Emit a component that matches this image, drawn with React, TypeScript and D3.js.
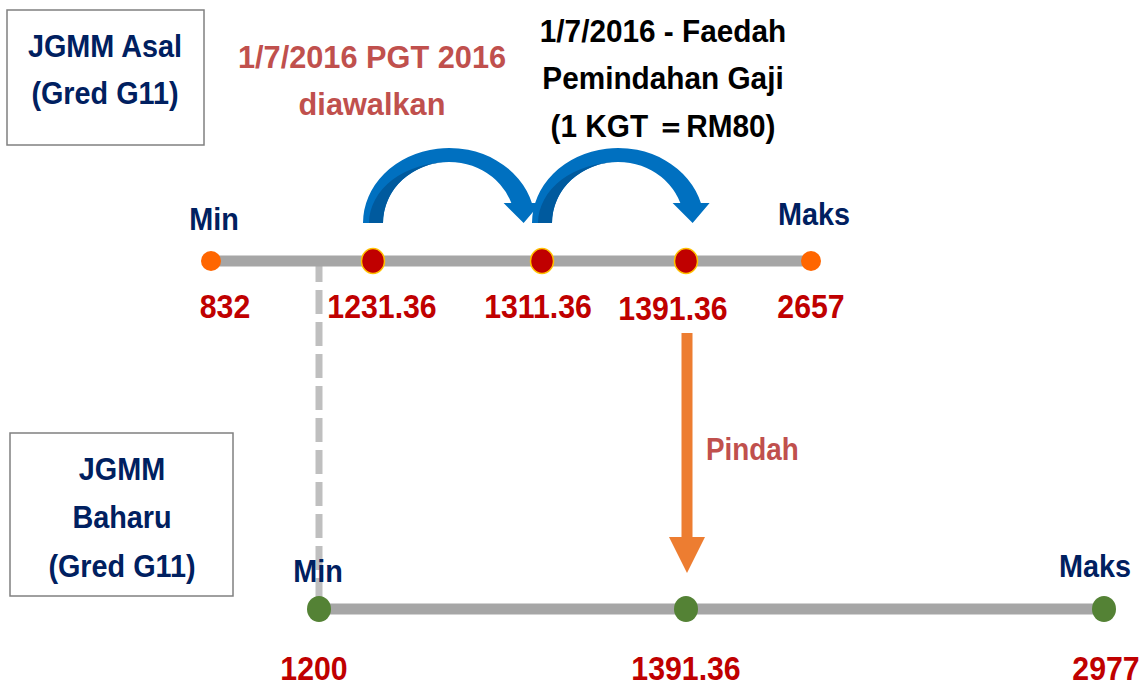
import * as d3 from "d3";

// salary points on the old scale (JGMM Asal, G11)
const asalValues = [832, 1231.36, 1311.36, 1391.36, 2657];
const asalKinds = ["end", "step", "step", "step", "end"];
// new scale (JGMM Baharu, G11)
const baharuValues = [1200, 1391.36, 2977];
const rangeLabels = ["Min", "Maks"];
// each curved arrow starts here and jumps one KGT (RM80) to the right
const kgtFrom = [1231.36, 1311.36];
const pindahValue = 1391.36;
const baharuMin = 1200;

const asalTitle = ["JGMM Asal", "(Gred G11)"];
const baharuTitle = ["JGMM", "Baharu", "(Gred G11)"];
const pgtNote = ["1/7/2016 PGT 2016", "diawalkan"];
const faedahNote = ["1/7/2016 - Faedah", "Pemindahan Gaji", "(1 KGT ＝RM80)"];
const pindahLabel = "Pindah";

const W = 1142;
const H = 689;
const FONT = "'Liberation Sans', Arial, sans-serif";
const NAVY = "#002060";
const ROSE = "#c0504d";
const DARKRED = "#c00000";
const SQUEEZE = 0.9; // stand-in for the condensed face of the original

// not to scale: every amount gets its own slot along the line
const slotValues = Array.from(new Set([...asalValues, ...baharuValues])).sort(d3.ascending);
const slotX = [211, 319, 373, 542, 686, 811, 1104];
const x = d3.scaleLinear().domain(slotValues).range(slotX);

const yTop = 261;
const yBottom = 609;
// labels sit in their own boxes, a little off the dots
const asalNudge = [14, 9, -4, -13, 0];
const baharuNudge = [-5, 0, 2];

function curvedArrow(x0: number, base: number) {
  const rxo = 86, ryo = 75, rxi = 66, ryi = 61;
  const cx = x0 + 76;
  const neck = base - 20;
  const dy = base - neck;
  const outerNeck = cx + rxo * Math.sqrt(1 - (dy / ryo) ** 2);
  const innerNeck = cx + rxi * Math.sqrt(1 - (dy / ryi) ** 2);
  const mid = (outerNeck + innerNeck) / 2;
  const body =
    `M${cx - rxo},${base} A${rxo},${ryo} 0 0 1 ${outerNeck},${neck} ` +
    `L${mid + 19},${neck} L${mid + 2},${base} L${mid - 18},${neck} ` +
    `L${innerNeck},${neck} A${rxi},${ryi} 0 0 0 ${cx - rxi},${base} Z`;
  const shade =
    `M${cx - rxi},${base} A${rxi},${ryi} 0 0 1 ${cx},${base - ryi} ` +
    `A${rxi + 14},${ryi} 0 0 0 ${cx - rxi - 14},${base} Z`;
  return { body, shade };
}

function downArrow(cx: number, y0: number, y1: number) {
  const p = d3.path();
  const hw = 5.5, head = 18, headLen = 36;
  p.moveTo(cx - hw, y0);
  p.lineTo(cx + hw, y0);
  p.lineTo(cx + hw, y1 - headLen);
  p.lineTo(cx + head, y1 - headLen);
  p.lineTo(cx, y1);
  p.lineTo(cx - head, y1 - headLen);
  p.lineTo(cx - hw, y1 - headLen);
  p.closePath();
  return p.toString();
}

function Label({ x0, y0, fill, size = 32, sx = SQUEEZE, anchor = "middle", children }: any) {
  return (
    <text transform={`translate(${x0},${y0}) scale(${sx},1)`} textAnchor={anchor} fill={fill} fontSize={size} fontWeight="bold" fontFamily={FONT}>
      {children}
    </text>
  );
}

function Lines({ lines, x0, y0, step, fill, sx = SQUEEZE }: any) {
  return (
    <text transform={`translate(${x0},${y0}) scale(${sx},1)`} textAnchor="middle" fill={fill} fontSize={32} fontWeight="bold" fontFamily={FONT}>
      {lines.map((t: string, i: number) => (
        <tspan key={i} x={0} dy={i === 0 ? 0 : step}>{t}</tspan>
      ))}
    </text>
  );
}

export default function App() {
  const asalEnds = d3.extent(asalValues) as [number, number];
  const baharuEnds = d3.extent(baharuValues) as [number, number];

  return (
    <svg width={W} height={H} style={{ position: "absolute", left: 0, top: 0, background: "#fff" }}>
      {/* title boxes */}
      <rect x={7} y={10} width={197} height={135} fill="none" stroke="#808080" strokeWidth={1.5} />
      <Lines lines={asalTitle} x0={105} y0={57} step={47} fill={NAVY} />
      <rect x={10} y={433} width={223} height={163} fill="none" stroke="#808080" strokeWidth={1.5} />
      <Lines lines={baharuTitle} x0={122} y0={480} step={48.5} fill={NAVY} />

      {/* notes */}
      <Lines lines={pgtNote} x0={372} y0={68} step={47} fill={ROSE} sx={0.96} />
      <Lines lines={faedahNote} x0={663} y0={42} step={47.5} fill="#000" sx={0.93} />

      {/* link from the new minimum up to the old line */}
      <line x1={x(baharuMin)} x2={x(baharuMin)} y1={yTop - 3} y2={yBottom} stroke="#bfbfbf" strokeWidth={7} strokeDasharray="24 8" />

      {/* salary lines */}
      <line x1={x(asalEnds[0])} x2={x(asalEnds[1])} y1={yTop} y2={yTop} stroke="#a6a6a6" strokeWidth={11} />
      <line x1={x(baharuEnds[0])} x2={x(baharuEnds[1])} y1={yBottom} y2={yBottom} stroke="#a6a6a6" strokeWidth={11} />

      {/* KGT jumps */}
      {kgtFrom.map((v, i) => {
        const a = curvedArrow(x(v), yTop - 38);
        return (
          <g key={i}>
            <path d={a.body} fill="#0070c0" />
            <path d={a.shade} fill="#005a9e" />
          </g>
        );
      })}

      {/* points */}
      {asalValues.map((v, i) =>
        asalKinds[i] === "end" ? (
          <circle key={i} cx={x(v)} cy={yTop} r={10} fill="#ff6600" />
        ) : (
          <ellipse key={i} cx={x(v)} cy={yTop} rx={11.5} ry={12.5} fill={DARKRED} stroke="#ffc000" strokeWidth={1.5} />
        )
      )}
      {baharuValues.map((v, i) => (
        <ellipse key={i} cx={x(v)} cy={yBottom} rx={12} ry={13} fill="#548235" />
      ))}

      {/* Min / Maks */}
      {rangeLabels.map((t, i) => (
        <Label key={"a" + i} x0={x(asalEnds[i]) + 3} y0={yTop - 31 - i * 5} fill={NAVY}>{t}</Label>
      ))}
      {rangeLabels.map((t, i) => (
        <Label key={"b" + i} x0={x(baharuEnds[i]) - (i ? 9 : 1)} y0={yBottom - 27 - i * 5} fill={NAVY}>{t}</Label>
      ))}

      {/* amounts */}
      {asalValues.map((v, i) => (
        <Label key={i} x0={x(v) + asalNudge[i]} y0={yTop + 57 + (i === 3 ? 2 : 0)} fill={DARKRED} size={34} sx={0.89}>{String(v)}</Label>
      ))}
      {baharuValues.map((v, i) => (
        <Label key={i} x0={x(v) + baharuNudge[i]} y0={yBottom + 71} fill={DARKRED} size={34} sx={0.89}>{String(v)}</Label>
      ))}

      {/* move to the new scale */}
      <path d={downArrow(x(pindahValue) + 1, yTop + 72, yBottom - 36)} fill="#ed7d31" />
      <Label x0={x(pindahValue) + 20} y0={460} fill={ROSE} anchor="start" sx={0.87}>{pindahLabel}</Label>
    </svg>
  );
}
